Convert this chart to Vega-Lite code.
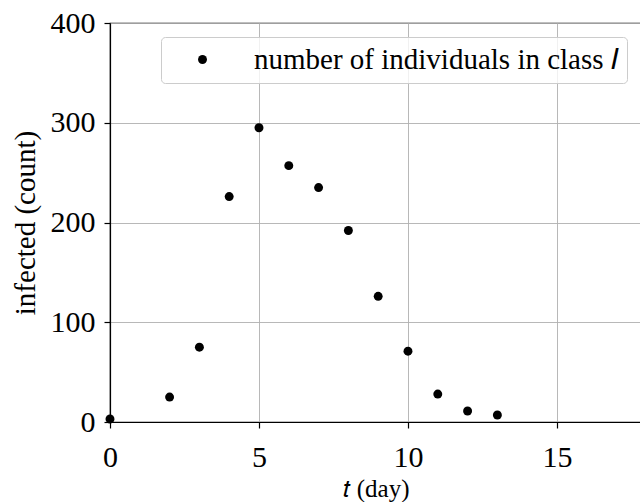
{
  "$schema": "https://vega.github.io/schema/vega-lite/v6.json",
  "autosize": "none",
  "width": 531,
  "height": 399,
  "padding": {"left": 110, "top": 23, "right": 0, "bottom": 80},
  "background": "white",
  "config": {
    "font": "Liberation Serif",
    "view": {"stroke": "black", "strokeWidth": 1.2},
    "axis": {
      "domainColor": "black", "domainWidth": 1.2,
      "tickColor": "black", "tickWidth": 1.2, "tickSize": 6,
      "gridColor": "#b0b0b0", "gridWidth": 0.9,
      "labelFont": "Liberation Serif", "labelFontSize": 30, "labelColor": "black",
      "titleFont": "Liberation Serif", "titleFontSize": 29, "titleFontWeight": "normal", "titleColor": "black"
    }
  },
  "data": {
    "values": [
      {"t": 0, "infected": 3, "series": "number of individuals in class 𝐼"},
      {"t": 2, "infected": 25, "series": "number of individuals in class 𝐼"},
      {"t": 3, "infected": 75, "series": "number of individuals in class 𝐼"},
      {"t": 4, "infected": 226, "series": "number of individuals in class 𝐼"},
      {"t": 5, "infected": 295, "series": "number of individuals in class 𝐼"},
      {"t": 6, "infected": 257, "series": "number of individuals in class 𝐼"},
      {"t": 7, "infected": 235, "series": "number of individuals in class 𝐼"},
      {"t": 8, "infected": 192, "series": "number of individuals in class 𝐼"},
      {"t": 9, "infected": 126, "series": "number of individuals in class 𝐼"},
      {"t": 10, "infected": 71, "series": "number of individuals in class 𝐼"},
      {"t": 11, "infected": 28, "series": "number of individuals in class 𝐼"},
      {"t": 12, "infected": 11, "series": "number of individuals in class 𝐼"},
      {"t": 13, "infected": 7, "series": "number of individuals in class 𝐼"}
    ]
  },
  "mark": {"type": "point", "filled": true, "opacity": 1, "size": 80, "shape": "circle", "clip": false},
  "encoding": {
    "x": {
      "field": "t", "type": "quantitative",
      "scale": {"domain": [0, 17.82], "nice": false, "zero": false},
      "axis": {"values": [0, 5, 10, 15], "title": "𝑡 (day)", "labelPadding": 14, "titlePadding": 4, "titleFontSize": 25, "labelFlush": false}
    },
    "y": {
      "field": "infected", "type": "quantitative",
      "scale": {"domain": [0, 400], "nice": false},
      "axis": {"values": [0, 100, 200, 300, 400], "title": "infected (count)", "labelPadding": 9, "titlePadding": 10, "labelFlush": false}
    },
    "color": {
      "field": "series", "type": "nominal",
      "scale": {"range": ["black"]},
      "legend": {
        "title": null,
        "orient": "none",
        "legendX": 51,
        "legendY": 14,
        "padding": 8,
        "strokeColor": "#cccccc",
        "cornerRadius": 4,
        "fillColor": "rgba(255,255,255,0.8)",
        "symbolType": "circle",
        "symbolSize": 80,
        "symbolOffset": 19,
        "labelOffset": 37,
        "labelFont": "Liberation Serif",
        "labelFontSize": 29,
        "labelColor": "black",
        "labelLimit": 0
      }
    }
  }
}
